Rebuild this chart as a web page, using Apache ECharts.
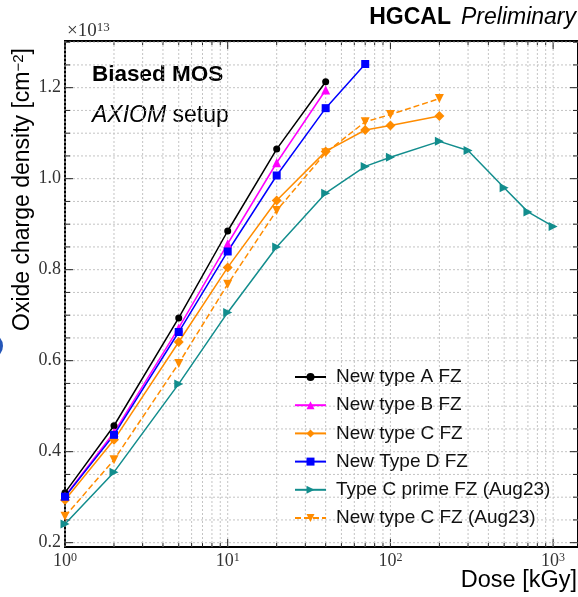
<!DOCTYPE html>
<html>
<head>
<meta charset="utf-8">
<script src="https://cdn.jsdelivr.net/npm/echarts@6/dist/echarts.min.js"></script>
<style>
html,body{margin:0;padding:0;background:#fff;}
#chart{width:578px;height:597px;}
</style>
</head>
<body>
<div id="chart"></div>
<script>
// ---- data ----
const doseA = [1, 2, 5, 10, 20, 40];
const typeA = [0.310, 0.457, 0.694, 0.885, 1.065, 1.213];
const doseB = [1, 2, 5, 10, 20, 40];
const typeB = [0.302, 0.442, 0.672, 0.857, 1.035, 1.195];
const doseC = [1, 2, 5, 10, 20, 40, 70, 100, 200];
const typeC = [0.294, 0.426, 0.641, 0.805, 0.952, 1.060, 1.107, 1.117, 1.138];
const doseD = [1, 2, 5, 10, 20, 40, 70];
const typeD = [0.301, 0.437, 0.663, 0.840, 1.007, 1.155, 1.252];
const doseCp = [1, 2, 5, 10, 20, 40, 70, 100, 200, 300, 500, 700, 1000];
const typeCprime = [0.241, 0.355, 0.549, 0.706, 0.850, 0.968, 1.027, 1.047, 1.082, 1.062, 0.980, 0.927, 0.895];
const doseCaug = [1, 2, 5, 10, 20, 40, 70, 100, 200];
const typeCaug = [0.258, 0.382, 0.594, 0.768, 0.930, 1.057, 1.125, 1.141, 1.176];

const seriesNames = ['New type A FZ', 'New type B FZ', 'New type C FZ', 'New Type D FZ', 'Type C prime FZ (Aug23)', 'New type C FZ (Aug23)'];

const xMajorTicks = [1, 10, 100, 1000];
const xMinorTicks = [2,3,4,5,6,7,8,9,20,30,40,50,60,70,80,90,200,300,400,500,600,700,800,900];
const yMajorTicks = [0.2, 0.4, 0.6, 0.8, 1.0, 1.2];
const yMinorTicks = [0.25,0.3,0.35,0.45,0.5,0.55,0.65,0.7,0.75,0.85,0.9,0.95,1.05,1.1,1.15,1.25,1.3];

const X_MIN = 1, X_MAX = 1422;
const Y_MIN = 0.1905, Y_MAX = 1.3026;

const SERIF = '"Liberation Serif","DejaVu Serif",serif';
const SANS = '"Liberation Sans",Arial,sans-serif';

function zip(xs, ys){ return xs.map((x,i)=>[x, ys[i]]); }

function mkLine(name, xs, ys, color, symbol, size, rotate, dashed){
  return {
    name, type:'line', data: zip(xs, ys), z: 5,
    symbol, symbolSize: size, symbolRotate: rotate || 0,
    lineStyle:{color, width:1.5, type: dashed ? [6,3] : 'solid'},
    itemStyle:{color, borderWidth:0},
    emphasis:{disabled:true}, animation:false
  };
}

const gridColor = '#c4c4c4';

const xTickSeries = {
  type:'custom', z:1, silent:true, clip:false, animation:false,
  data: xMajorTicks.map(v=>[v, Y_MIN, 1]).concat(xMinorTicks.map(v=>[v, Y_MIN, 0])),
  encode:{x:0, y:1},
  renderItem: function(params, api){
    const cs = params.coordSys;
    const v = api.value(0), major = api.value(2);
    const px = api.coord([v, Y_MIN])[0];
    const len = major ? 8 : 4;
    const yb = cs.y + cs.height, yt = cs.y;
    const ch = [
      {type:'line', shape:{x1:px,y1:yt,x2:px,y2:yb}, style:{stroke:gridColor, lineWidth:1, lineDash:[2,2]}},
      {type:'line', shape:{x1:px,y1:yb,x2:px,y2:yb-len}, style:{stroke:'#222', lineWidth:1}},
      {type:'line', shape:{x1:px,y1:yt,x2:px,y2:yt+len}, style:{stroke:'#222', lineWidth:1}}
    ];
    if (major) {
      const e = Math.round(Math.log10(v));
      ch.push({type:'text', x:px, y:yb+5, style:{
        text:'10{s|' + e + '}', align:'center', verticalAlign:'top', textAlign:'center', textVerticalAlign:'top',
        font:'18px ' + SERIF, fill:'#333',
        rich:{s:{fontSize:12, fontFamily:SERIF, verticalAlign:'top', lineHeight:12, fill:'#333'}}
      }});
    }
    return {type:'group', children: ch};
  }
};

const yTickSeries = {
  type:'custom', z:1, silent:true, clip:false, animation:false,
  data: yMajorTicks.map(v=>[X_MIN, v, 1]).concat(yMinorTicks.map(v=>[X_MIN, v, 0])),
  encode:{x:0, y:1},
  renderItem: function(params, api){
    const cs = params.coordSys;
    const v = api.value(1), major = api.value(2);
    const py = api.coord([X_MIN, v])[1];
    const len = major ? 8 : 5;
    const xl = cs.x, xr = cs.x + cs.width;
    const ch = [
      {type:'line', shape:{x1:xl,y1:py,x2:xr,y2:py}, style:{stroke:gridColor, lineWidth:1, lineDash:[2,2]}},
      {type:'line', shape:{x1:xl,y1:py,x2:xl+len,y2:py}, style:{stroke:'#222', lineWidth:1}},
      {type:'line', shape:{x1:xr,y1:py,x2:xr-len,y2:py}, style:{stroke:'#222', lineWidth:1}}
    ];
    if (major) {
      ch.push({type:'text', x:xl-4, y:py, style:{
        text: v.toFixed(1), align:'right', verticalAlign:'middle', textAlign:'right', textVerticalAlign:'middle',
        font:'18px ' + SERIF, fill:'#333'
      }});
    }
    return {type:'group', children: ch};
  }
};

const chart = echarts.init(document.getElementById('chart'), null, {renderer:'canvas'});
chart.setOption({
  backgroundColor:'#fff',
  animation:false,
  grid:{left:65, top:41, right:0, bottom:50, show:true, borderColor:'#000', borderWidth:2, backgroundColor:'transparent'},
  xAxis:{type:'log', logBase:10, min:X_MIN, max:X_MAX,
    axisLine:{show:false}, axisTick:{show:false}, axisLabel:{show:false}, splitLine:{show:false}, minorSplitLine:{show:false}},
  yAxis:{type:'value', min:Y_MIN, max:Y_MAX, scale:true,
    axisLine:{show:false}, axisTick:{show:false}, axisLabel:{show:false}, splitLine:{show:false}},
  legend:{
    data: seriesNames, orient:'vertical', left:289, top:362,
    itemWidth:31, itemHeight:10, itemGap:8.2,
    textStyle:{fontFamily:SANS, fontSize:19, color:'#111', lineHeight:20, padding:[0,0,0,5]},
    selectedMode:false
  },
  series:[
    xTickSeries, yTickSeries,
    mkLine(seriesNames[0], doseA, typeA, '#000000', 'circle', 7),
    mkLine(seriesNames[1], doseB, typeB, '#ff00ff', 'triangle', 9),
    mkLine(seriesNames[2], doseC, typeC, '#ff8c00', 'diamond', 10),
    mkLine(seriesNames[3], doseD, typeD, '#0000ff', 'rect', 8),
    mkLine(seriesNames[4], doseCp, typeCprime, '#128d8d', 'triangle', 9, -90),
    mkLine(seriesNames[5], doseCaug, typeCaug, '#ff8c00', 'triangle', 9, 180, true)
  ],
  graphic:[
    {type:'text', x:576, y:18, style:{
      text:'{b|HGCAL}{i|Preliminary}', align:'right', verticalAlign:'middle', textAlign:'right', textVerticalAlign:'middle',
      rich:{b:{fontFamily:SANS, fontWeight:'bold', fontSize:23, fill:'#000'},
            i:{fontFamily:SANS, fontStyle:'italic', fontSize:23, fill:'#000', padding:[0,0,0,10]}}
    }},
    {type:'text', x:67, y:31, style:{
      text:'×10{s|13}', align:'left', verticalAlign:'middle', textAlign:'left', textVerticalAlign:'middle',
      font:'19px ' + SERIF, fill:'#333',
      rich:{s:{fontSize:13, fontFamily:SERIF, verticalAlign:'top', lineHeight:13, fill:'#333'}}
    }},
    {type:'text', x:92, y:75, style:{
      text:'Biased MOS', font:'bold 22.5px ' + SANS, fill:'#000', align:'left', verticalAlign:'middle', textAlign:'left', textVerticalAlign:'middle'
    }},
    {type:'text', x:92, y:116, style:{
      text:'{i|AXIOM} setup', font:'23px ' + SANS, fill:'#000', align:'left', verticalAlign:'middle', textAlign:'left', textVerticalAlign:'middle',
      rich:{i:{fontFamily:SANS, fontStyle:'italic', fontSize:23, fill:'#000'}}
    }},
    {type:'text', x:577, y:581, style:{
      text:'Dose [kGy]', font:'23.5px ' + SANS, fill:'#000', align:'right', verticalAlign:'middle', textAlign:'right', textVerticalAlign:'middle'
    }},
    {type:'text', x:23, y:48, rotation:Math.PI/2, style:{
      text:'Oxide charge density [cm{s|−2}]', font:'23px ' + SANS, fill:'#000',
      align:'right', verticalAlign:'middle', textAlign:'right', textVerticalAlign:'middle',
      rich:{s:{fontSize:15, fontFamily:SANS, verticalAlign:'top', lineHeight:15, fill:'#000'}}
    }},
    {type:'circle', shape:{cx:-10, cy:346, r:13}, style:{fill:'#2456b8'}}
  ]
});
</script>
</body>
</html>
